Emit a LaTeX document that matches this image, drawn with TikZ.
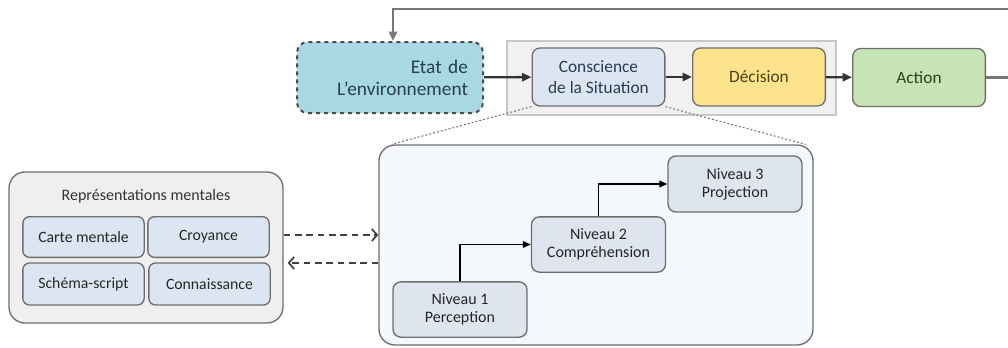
\documentclass[tikz,border=0pt]{standalone}
\usepackage{fontspec}
\setmainfont{Carlito}
\usetikzlibrary{arrows.meta}

\definecolor{envfill}{HTML}{AAD7E4}
\definecolor{csfill}{HTML}{DCE6F2}
\definecolor{decfill}{HTML}{FDE38C}
\definecolor{actfill}{HTML}{C7E4B5}
\definecolor{grpfill}{HTML}{F1F1F1}
\definecolor{zoomfill}{HTML}{F4F7FB}
\definecolor{repfill}{HTML}{EFEFEF}
\definecolor{lvlfill}{HTML}{DEE5EF}
\definecolor{boxline}{HTML}{6E6E6E}
\definecolor{fbgrey}{HTML}{777777}
\definecolor{envtext}{HTML}{27404E}
\definecolor{cstext}{HTML}{2B3A52}
\definecolor{dectext}{HTML}{4E3F14}
\definecolor{acttext}{HTML}{25431D}

\begin{document}
\begin{tikzpicture}[x=0.75pt,y=-0.75pt,
    topbox/.style={draw=boxline, line width=1pt, rounded corners=6pt, align=center,
        minimum width=99.5pt, minimum height=43.5pt, font=\fontsize{13}{15.75}\selectfont},
    lvlbox/.style={draw=boxline, line width=1pt, fill=lvlfill, rounded corners=6pt, align=center,
        minimum width=100.5pt, minimum height=41.5pt, text=black!85, font=\fontsize{12}{13.5}\selectfont},
    repbox/.style={draw=boxline, line width=1pt, fill=csfill, rounded corners=5pt, align=center,
        minimum width=91pt, minimum height=30.5pt, text=black!85, font=\fontsize{11.8}{14}\selectfont},
    flow/.style={black!80, line width=1.8pt, -{Triangle[length=7pt,width=6pt]}},
    fback/.style={fbgrey, line width=2pt, -{Triangle[length=7pt,width=6pt]}},
    lvlarrow/.style={black, line width=0.8pt, -{Triangle[length=6pt,width=5pt]}},
    exch/.style={black!75, line width=1.3pt, dash pattern=on 5pt off 3.5pt, -{Straight Barb[length=4pt,width=9pt]}},
    zoomline/.style={fbgrey, line width=0.8pt, dash pattern=on 1.5pt off 1.5pt}]
    \useasboundingbox (0,0) rectangle (1008,347);
    %boucle principale
    \node[draw=black!22, line width=0.8pt, fill=grpfill, minimum width=246.75pt, minimum height=55.5pt] (grp) at (671.5,78) {};
    \node[topbox, fill=envfill, dashed, draw=black!70, line width=1.5pt, rounded corners=8pt,
        minimum width=139.5pt, minimum height=53.25pt, text width=117pt, align=right, inner sep=0pt,
        text=envtext, font=\fontsize{14.5}{16.5}\selectfont] (env) at (390,77.5) {Etat de\\L’environnement};
    \node[topbox, fill=csfill, text=cstext] (cs) at (598.5,77) {Conscience\\de la Situation};
    \node[topbox, fill=decfill, text=dectext] (dec) at (759,77) {Décision};
    \node[topbox, fill=actfill, text=acttext] (act) at (919,77.5) {Action};
    \draw[flow] (env) -- (cs);
    \draw[flow] (cs) -- (dec);
    \draw[flow] (dec) -- (act);
    %retour vers l'environnement
    \coordinate (fbr) at (1020,9);
    \coordinate (fbl) at (393,9);
    \draw[fback] (act.east) -- (act.east -| fbr) -- (fbr) -- (fbl) -- (fbl |- env.north);
    %niveaux de la conscience
    \node[draw=boxline, line width=1pt, fill=zoomfill, rounded corners=12pt, minimum width=325.5pt, minimum height=150pt] (zoom) at (596,245) {};
    \draw[zoomline] (cs.south west) -- ([xshift=10pt]zoom.north west);
    \draw[zoomline] (cs.south east) -- ([xshift=-6pt]zoom.north east);
    \node[lvlbox] (n1) at (460,309.5) {Niveau 1\\Perception};
    \node[lvlbox] (n2) at (598.5,244.5) {Niveau 2\\Compréhension};
    \node[lvlbox, minimum height=42pt] (n3) at (735,184) {Niveau 3\\Projection};
    \draw[lvlarrow] (n1.north) |- (n2.west);
    \draw[lvlarrow] (n2.north) |- (n3.west);
    %representations mentales
    \node[draw=boxline, line width=1pt, fill=repfill, rounded corners=12pt, minimum width=205.5pt, minimum height=113.25pt] (rep) at (146,247.5) {};
    \node[text=black!80, font=\fontsize{12}{14}\selectfont] (reptitle) at (146,196) {Représentations mentales};
    \node[repbox] (carte) at (83.5,237) {Carte mentale};
    \node[repbox] (croy) at (208.5,237) {Croyance};
    \node[repbox, minimum height=31.5pt] (schema) at (83.5,284) {Schéma-script};
    \node[repbox, minimum height=31.5pt] (conn) at (209.5,284) {Connaissance};
    \coordinate (ex1) at (330,235);
    \coordinate (ex2) at (330,263);
    \draw[exch] (rep.east |- ex1) -- (zoom.west |- ex1);
    \draw[exch] (zoom.west |- ex2) -- ([xshift=3pt]rep.east |- ex2);
\end{tikzpicture}
\end{document}
